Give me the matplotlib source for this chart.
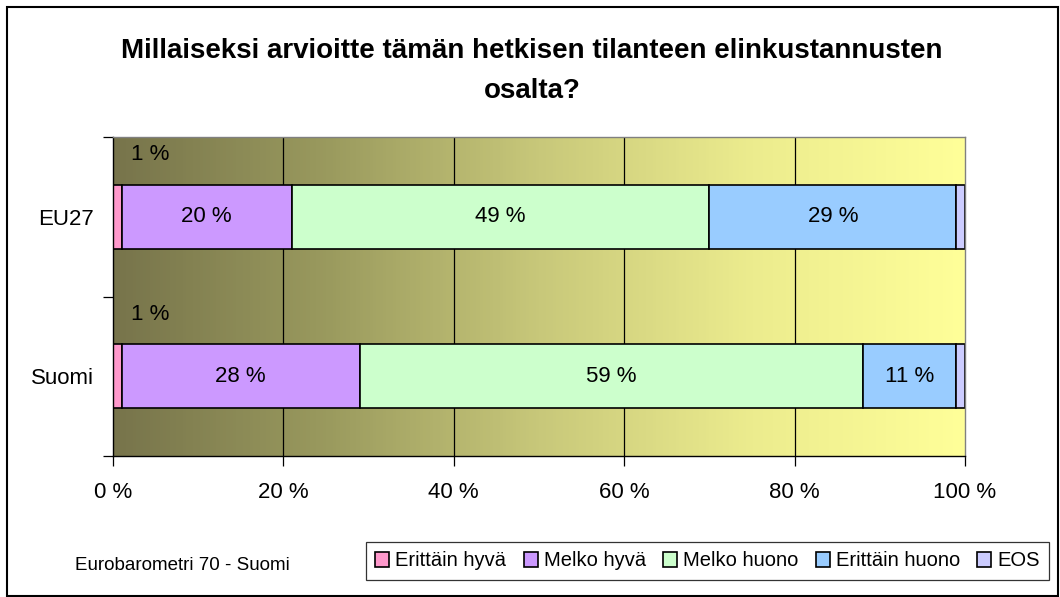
import numpy as np
import matplotlib.pyplot as plt
from matplotlib.colors import LinearSegmentedColormap
from matplotlib.patches import Rectangle

plt.rcParams['font.family'] = ['Liberation Sans', 'DejaVu Sans']

groups = ['Suomi', 'EU27']
series = ['Erittäin hyvä', 'Melko hyvä', 'Melko huono', 'Erittäin huono', 'EOS']
colors = ['#ff99cc', '#cc99ff', '#ccffcc', '#99ccff', '#ccccff']
# values per series, order follows groups (Suomi, EU27)
erittain_hyva = [1, 1]
melko_hyva = [28, 20]
melko_huono = [59, 49]
erittain_huono = [11, 29]
eos = [1, 1]
values = [erittain_hyva, melko_hyva, melko_huono, erittain_huono, eos]

fig = plt.figure(figsize=(10.6, 5.97), dpi=100)
ax = fig.add_axes([113/1060, 1-456/597, 852/1060, 319/597])

# gradient background
bg = LinearSegmentedColormap.from_list('bg', ['#77744b', '#9a9a5e', '#c8c87a', '#ecec8e', '#ffff99'])
grad = np.linspace(0, 1, 256).reshape(1, -1)
ax.imshow(grad, cmap=bg, extent=[0, 100, -0.5, 1.5], aspect='auto', zorder=0)

ax.set_xlim(0, 100)
ax.set_ylim(-0.5, 1.5)
for gx in [20, 40, 60, 80]:
    ax.axvline(gx, color='black', lw=0.9, zorder=1)

y = np.arange(len(groups))
left = np.zeros(len(groups))
for i, (name, vals, c) in enumerate(zip(series, values, colors)):
    vals = np.array(vals, dtype=float)
    ax.barh(y, vals, left=left, height=0.4, color=c, edgecolor='black',
            lw=1.2, label=name, zorder=2)
    for yy, l, v in zip(y, left, vals):
        if i == 0:
            ax.annotate(f'{int(v)} %', (l + v / 2, yy + 0.2), xytext=(33, 30),
                        textcoords='offset pixels', ha='center', va='center',
                        fontsize=16, zorder=3)
        elif i < 4:
            ax.text(l + v / 2, yy, f'{int(v)} %', ha='center', va='center',
                    fontsize=16, zorder=3)
    left += vals

ax.set_xticks([0, 20, 40, 60, 80, 100])
ax.set_xticklabels([f'{t} %' for t in [0, 20, 40, 60, 80, 100]], fontsize=16)
ax.tick_params(axis='x', length=7, width=0.9, pad=11.5)
ax.set_yticks([-0.5, 0.5, 1.5])
ax.set_yticklabels([])
ax.set_yticks(y, minor=True)
ax.set_yticklabels(groups, minor=True, fontsize=16)
ax.tick_params(axis='y', which='major', length=7, width=0.9)
ax.tick_params(axis='y', which='minor', length=0, pad=14)

for s in ['top', 'right']:
    ax.spines[s].set_color('#808080')
for s in ['left', 'bottom']:
    ax.spines[s].set_color('black')
for s in ax.spines.values():
    s.set_linewidth(1.0)

fig.text(0.502, 1 - 38/597, 'Millaiseksi arvioitte tämän hetkisen tilanteen elinkustannusten\nosalta?',
         ha='center', va='top', fontsize=20, fontweight='bold', linespacing=1.72)

fig.text(75/1060, 1 - 566/597, 'Eurobarometri 70 - Suomi', ha='left', va='center', fontsize=13.5)

leg = fig.legend(loc='center', bbox_to_anchor=((367+1048)/2/1060, 1 - 561/597), ncol=5,
                 fontsize=14.5, frameon=True, fancybox=False, edgecolor='black',
                 handlelength=0.7, handleheight=0.7, handletextpad=0.3, columnspacing=0.85,
                 borderpad=0.45, borderaxespad=0)
leg.get_frame().set_linewidth(0.9)

fig.patches.append(Rectangle((7/1060, 1/597), 1051/1060, 589/597, transform=fig.transFigure,
                             fill=False, edgecolor='black', lw=1.5))

fig.savefig('out.png', dpi=100)
